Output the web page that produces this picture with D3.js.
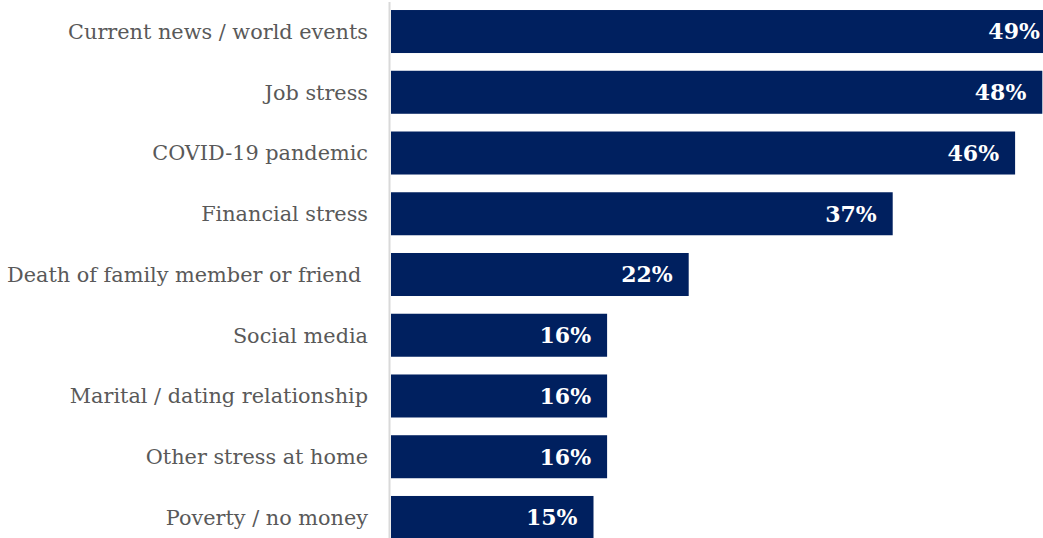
<!DOCTYPE html>
<html>
<head>
<meta charset="utf-8">
<script src="https://cdn.jsdelivr.net/npm/d3@7"></script>
<style>
  html, body { margin: 0; padding: 0; background: #fff; }
  svg { display: block; }
</style>
</head>
<body>
<svg id="chart" width="1043" height="538"></svg>
<script>
// Sources of stress, share of respondents
const categories = [
  "Current news / world events",
  "Job stress",
  "COVID-19 pandemic",
  "Financial stress",
  "Death of family member or friend ",
  "Social media",
  "Marital / dating relationship",
  "Other stress at home",
  "Poverty / no money"
];
const values = [49, 48, 46, 37, 22, 16, 16, 16, 15];
const valueLabels = ["49%", "48%", "46%", "37%", "22%", "16%", "16%", "16%", "15%"];

const svg = d3.select("#chart");
const serif = "Georgia, 'DejaVu Serif', serif";

const x0 = 389.5;
const x = d3.scaleLinear().domain([0, 10]).range([x0, x0 + 136]);
const y = d3.scaleBand()
  .domain(categories)
  .range([0, 549])
  .paddingInner(0.292)
  .paddingOuter(0.165);

// Category axis line
svg.append("line")
  .attr("x1", x0).attr("x2", x0)
  .attr("y1", 2).attr("y2", 538)
  .attr("stroke", "#d9d9d9")
  .attr("stroke-width", 2);

// Bars
svg.append("g").selectAll("rect")
  .data(values)
  .join("rect")
  .attr("x", x(0) + 1.5)
  .attr("y", (d, i) => y(categories[i]))
  .attr("width", d => x(d) - x(0) - 1.5)
  .attr("height", y.bandwidth())
  .attr("fill", "#00205f");

// Value labels inside bar ends
svg.append("g").selectAll("text")
  .data(values)
  .join("text")
  .attr("x", d => x(d) - 16)
  .attr("y", (d, i) => y(categories[i]) + y.bandwidth() / 2)
  .attr("dy", "0.36em")
  .attr("text-anchor", "end")
  .attr("fill", "#fff")
  .attr("font-family", serif)
  .attr("font-weight", "bold")
  .attr("font-size", 22)
  .text((d, i) => valueLabels[i]);

// Category labels
svg.append("g").selectAll("text")
  .data(categories)
  .join("text")
  .attr("x", 368)
  .attr("y", d => y(d) + y.bandwidth() / 2)
  .attr("dy", "0.35em")
  .attr("text-anchor", "end")
  .attr("fill", "#595959")
  .attr("font-family", serif)
  .attr("font-size", 20.8)
  .style("white-space", "pre")
  .text(d => d);
</script>
</body>
</html>
